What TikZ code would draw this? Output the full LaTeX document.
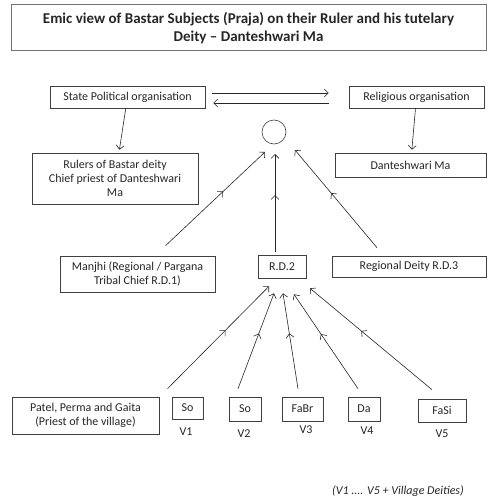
\documentclass[tikz,border=0pt]{standalone}
\usepackage{fontspec}
\setmainfont{Carlito}
\usetikzlibrary{arrows.meta,positioning,decorations.markings}

\begin{document}
\begin{tikzpicture}[
    x=1pt, y=-1pt,
    font=\fontsize{12}{14}\selectfont,
    box/.style={draw=black!75, line width=0.6pt, align=center, inner sep=1pt, text=black!85},
    arrow/.style={draw=black!85, line width=0.6pt, -{Straight Barb[length=4pt, width=8pt]}},
    midarrow/.style={arrow, postaction={decorate},
        decoration={markings, mark=at position #1 with {\arrow{Straight Barb[length=4pt, width=8pt]}}}},
    midarrow/.default=0.58
]
\useasboundingbox (0,0) rectangle (487,500);

% Title
\node[box, draw=black!55, line width=1pt, minimum width=475pt, minimum height=46pt,
      font=\fontsize{15}{18}\selectfont\bfseries] (title) at (248.5,28)
      {Emic view of Bastar Subjects (Praja) on their Ruler and his tutelary\\Deity -- Danteshwari Ma};

% Organisations (top row)
\node[box, minimum width=155pt, minimum height=22pt] (state) at (127.5,97) {State Political organisation};
\node[box, minimum width=135pt, minimum height=22pt] (relig) at (416.5,97) {Religious organisation};
\node[box, minimum width=166pt, minimum height=51pt] (rulers) at (115,178.5)
      {Rulers of Bastar deity\\Chief priest of Danteshwari\\Ma};
\node[box, minimum width=151pt, minimum height=24pt] (danti) at (410.5,165) {Danteshwari Ma};
\node[draw=black!75, line width=0.6pt, circle, minimum size=24pt, inner sep=0pt] (circ) at (274,132) {};

\draw[arrow, shorten <=7pt, shorten >=20pt] ([yshift=4pt]state.east) -- ([yshift=4pt]relig.west);
\draw[arrow, shorten <=20pt, shorten >=8pt] ([yshift=-6pt]relig.west) -- ([yshift=-6pt]state.east);
\draw[arrow, shorten >=3pt] (state) -- (rulers);
\draw[arrow, shorten >=3pt] (relig) -- (danti);

% Regional deities
\node[box, minimum width=155pt, minimum height=36pt] (manjhi) at (137.5,274)
      {Manjhi (Regional / Pargana\\Tribal Chief R.D.1)};
\node[box, minimum width=48pt, minimum height=23pt] (rdtwo) at (282,266.5) {R.D.2};
\node[box, minimum width=154pt, minimum height=21pt] (rdthree) at (409,266.5) {Regional Deity R.D.3};

\draw[midarrow] ([xshift=28pt, yshift=10pt]manjhi.north) -- ([xshift=-9pt, yshift=-20pt]circ.center);
\draw[midarrow] ([xshift=-7pt, yshift=3pt]rdtwo.north) -- ([xshift=1pt, yshift=-22pt]circ.center);
\draw[midarrow=0.56] ([xshift=-32pt, yshift=8pt]rdthree.north) -- ([xshift=21pt, yshift=-18pt]circ.center);

% Village deities
\node[box, minimum width=147pt, minimum height=37pt] (patel) at (85.5,415.5)
      {Patel, Perma and Gaita\\(Priest of the village)};
\node[box, minimum width=31pt, minimum height=22pt] (vone) at (187.5,408) {So};
\node[box, minimum width=32pt, minimum height=24pt] (vtwo) at (245,409) {So};
\node[box, minimum width=41pt, minimum height=24pt] (vthree) at (302.5,409) {FaBr};
\node[box, minimum width=32pt, minimum height=24pt] (vfour) at (364,409) {Da};
\node[box, minimum width=48pt, minimum height=23pt] (vfive) at (442,410.5) {FaSi};

\node[text=black!85] (lone) at (186,432) {V1};
\node[text=black!85] (ltwo) at (244,434) {V2};
\node[text=black!85] (lthree) at (306,430) {V3};
\node[text=black!85] (lfour) at (367,431) {V4};
\node[text=black!85] (lfive) at (442,434) {V5};

\draw[midarrow=0.57] ([xshift=-20pt, yshift=8pt]vone.north) -- ([xshift=-13pt, yshift=-8pt]rdtwo.south);
\draw[midarrow] ([xshift=-7pt, yshift=8pt]vtwo.north) -- ([xshift=-8pt, yshift=-15pt]rdtwo.south);
\draw[midarrow] ([xshift=-4.5pt, yshift=8pt]vthree.north) -- ([xshift=1pt, yshift=-15pt]rdtwo.south);
\draw[midarrow] ([xshift=-6pt, yshift=8pt]vfour.north) -- ([xshift=12pt, yshift=-16pt]rdtwo.south);
\draw[midarrow] ([xshift=-10pt, yshift=9pt]vfive.north) -- ([xshift=28pt, yshift=-10pt]rdtwo.south);

\node[text=black!85, font=\fontsize{12}{14}\selectfont\itshape] (note) at (398,491)
      {(V1 .... V5 + Village Deities)};
\end{tikzpicture}
\end{document}
